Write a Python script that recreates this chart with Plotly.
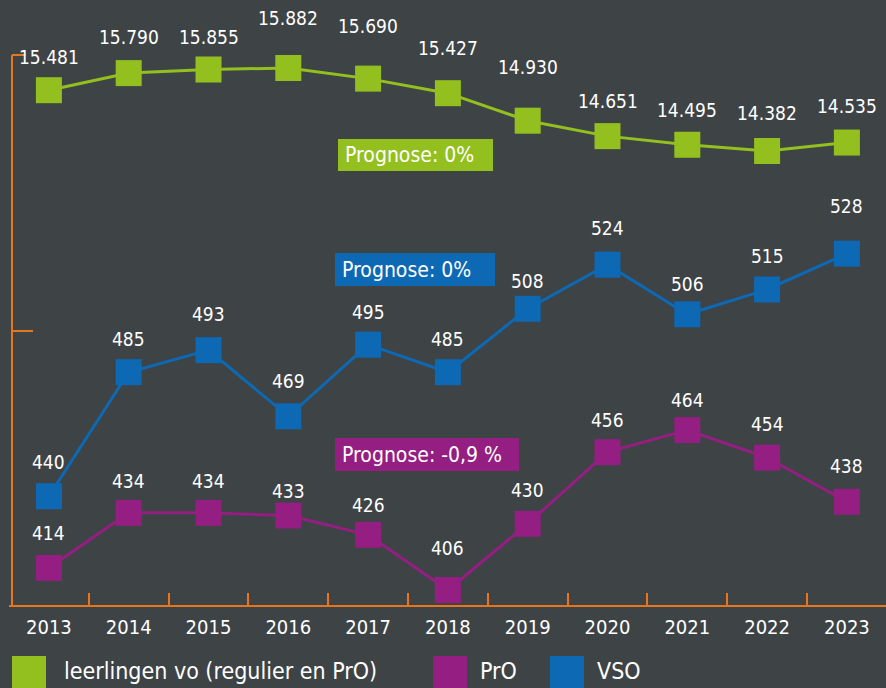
import plotly.graph_objects as go

years = ["2013", "2014", "2015", "2016", "2017", "2018", "2019", "2020", "2021", "2022", "2023"]
vo_values = [15481, 15790, 15855, 15882, 15690, 15427, 14930, 14651, 14495, 14382, 14535]
vso_values = [440, 485, 493, 469, 495, 485, 508, 524, 506, 515, 528]
pro_values = [414, 434, 434, 433, 426, 406, 430, 456, 464, 454, 438]
series_names = ["leerlingen vo (regulier en PrO)", "PrO", "VSO"]
prognose_texts = ["Prognose: 0%", "Prognose: 0%", "Prognose: -0,9 %"]

# label offsets (styling, pixels above marker)
vo_dy = [33, 36, 33, 50, 53, 45, 54, 35, 35, 38, 37]
vso_dy = [34, 33, 36, 35, 33, 33, 28, 37, 30, 33, 48]
pro_dy = [35, 32, 32, 25, 30, 42, 34, 32, 30, 34, 36]

GREEN = "#93c01f"
BLUE = "#0d69b4"
PURPLE = "#941e81"
ORANGE = "#e8761c"
BG = "#3e4346"
FONT = "DejaVu Sans Condensed, DejaVu Sans, sans-serif"

W, H = 886, 688
ML, MR, MT, MB = 9, 0, 0, 83
PW, PH = W - ML - MR, H - MT - MB


def px(x):
    return (x - ML) / PW


def py(y):
    return (MT + PH - y) / PH


fig = go.Figure()

fig.add_trace(go.Scatter(x=years, y=pro_values, mode="lines+markers", yaxis="y",
                         line=dict(color=PURPLE, width=3),
                         marker=dict(symbol="square", size=26, color=PURPLE),
                         name=series_names[1], showlegend=False, cliponaxis=False))
fig.add_trace(go.Scatter(x=years, y=vso_values, mode="lines+markers", yaxis="y",
                         line=dict(color=BLUE, width=3),
                         marker=dict(symbol="square", size=26, color=BLUE),
                         name=series_names[2], showlegend=False, cliponaxis=False))
fig.add_trace(go.Scatter(x=years, y=vo_values, mode="lines+markers", yaxis="y2",
                         line=dict(color=GREEN, width=3),
                         marker=dict(symbol="square", size=26, color=GREEN),
                         name=series_names[0], showlegend=False, cliponaxis=False))

annotations = []
for i, (v, dy) in enumerate(zip(vo_values, vo_dy)):
    annotations.append(dict(x=i, xref="x", y=v, yref="y2", text=f"{v:,}".replace(",", "."),
                            showarrow=False, yshift=dy, yanchor="middle",
                            font=dict(family=FONT, size=19, color="white")))
for i, (v, dy) in enumerate(zip(vso_values, vso_dy)):
    annotations.append(dict(x=i, xref="x", y=v, yref="y", text=str(v),
                            showarrow=False, yshift=dy, yanchor="middle",
                            font=dict(family=FONT, size=19, color="white")))
for i, (v, dy) in enumerate(zip(pro_values, pro_dy)):
    annotations.append(dict(x=i, xref="x", y=v, yref="y", text=str(v),
                            showarrow=False, yshift=dy, yanchor="middle",
                            font=dict(family=FONT, size=19, color="white")))

shapes = []
# prognose boxes
boxes = [(338, 139, 493, 171, GREEN), (335, 253, 495, 286, BLUE), (335, 438, 519, 471, PURPLE)]
for (x0, y0, x1, y1, c), txt in zip(boxes, prognose_texts):
    shapes.append(dict(type="rect", xref="paper", yref="paper", x0=px(x0), x1=px(x1),
                       y0=py(y1), y1=py(y0), fillcolor=c, line=dict(width=0), layer="above"))
    annotations.append(dict(xref="paper", yref="paper", x=px(x0 + 5), y=py((y0 + y1) / 2),
                            xanchor="left", yanchor="middle", text=txt, showarrow=False,
                            font=dict(family=FONT, size=21, color="white")))

# left axis line & ticks (chalk orange)
shapes.append(dict(type="line", xref="paper", yref="paper", x0=px(12), x1=px(12),
                   y0=py(605), y1=py(55), line=dict(color=ORANGE, width=2)))
shapes.append(dict(type="line", xref="paper", yref="paper", x0=px(12), x1=px(26),
                   y0=py(55), y1=py(55), line=dict(color=ORANGE, width=2)))
shapes.append(dict(type="line", xref="paper", yref="paper", x0=px(12), x1=px(33),
                   y0=py(331), y1=py(331), line=dict(color=ORANGE, width=2)))

# legend
legend_items = [(12, 46, 62, GREEN, series_names[0]),
                (433, 467, 478, PURPLE, series_names[1]),
                (550, 584, 595, BLUE, series_names[2])]
for sx0, sx1, tx, c, name in legend_items:
    shapes.append(dict(type="rect", xref="paper", yref="paper", x0=px(sx0), x1=px(sx1),
                       y0=py(695), y1=py(656), fillcolor=c, line=dict(width=0)))
    annotations.append(dict(xref="paper", yref="paper", x=px(tx), y=py(671),
                            xanchor="left", yanchor="middle", text=name, showarrow=False,
                            font=dict(family=FONT, size=23, color="white")))

fig.update_layout(
    width=W, height=H,
    margin=dict(l=ML, r=MR, t=MT, b=MB),
    paper_bgcolor=BG, plot_bgcolor=BG,
    showlegend=False,
    xaxis=dict(type="category", range=[-0.5, 10.49], tickson="boundaries",
               ticks="inside", ticklen=12, tickwidth=2, tickcolor=ORANGE,
               showline=True, linecolor=ORANGE, linewidth=2, showgrid=False,
               zeroline=False, ticklabelstandoff=3,
               tickfont=dict(family=FONT, size=20, color="white")),
    yaxis=dict(range=[400.56, 620.0], visible=False, showgrid=False),
    yaxis2=dict(range=[6178, 17111], overlaying="y", visible=False, showgrid=False),
    annotations=annotations,
    shapes=shapes,
)

fig.write_html("out.html", config={"displayModeBar": False},
               post_script="document.body.style.margin='0';document.body.style.padding='0';"
                           "document.body.style.background='" + BG + "';")
